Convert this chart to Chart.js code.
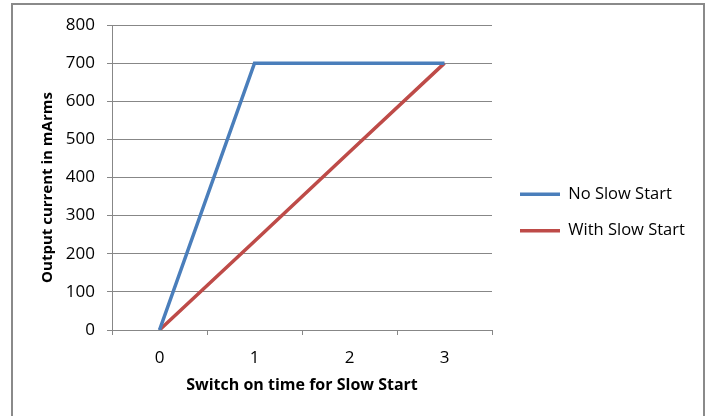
<!DOCTYPE html>
<html>
<head>
<meta charset="utf-8">
<script src="https://cdn.jsdelivr.net/npm/chart.js@4/dist/chart.umd.min.js"></script>
<style>
html,body{margin:0;padding:0;background:#fff;}
#wrap{position:relative;width:709px;height:416px;}
</style>
</head>
<body>
<div id="wrap"><canvas id="c" width="709" height="416"></canvas></div>
<script>
const categories = ['0', '1', '2', '3'];
const noSlowStart = [0, 700, 700, 700];
const withSlowStart = [0, 233, 467, 700];
const yTicks = [0, 100, 200, 300, 400, 500, 600, 700, 800];
const seriesNames = ['No Slow Start', 'With Slow Start'];
const xTitle = 'Switch on time for Slow Start';
const yTitle = 'Output current in mArms';

const FONT = "'Open Sans', 'Liberation Sans', sans-serif";
const GRID = '#878787';
const BLUE = '#4A7EBB';
const RED = '#BE4B48';

const frame = {
  id: 'frame',
  beforeDraw(chart) {
    const ctx = chart.ctx;
    ctx.save();
    ctx.fillStyle = '#fff';
    ctx.fillRect(0, 0, chart.width, chart.height);
    ctx.strokeStyle = '#8a8a8a';
    ctx.lineWidth = 2;
    ctx.strokeRect(12, 4, 692, 430);
    ctx.restore();
  }
};

const legendPlace = {
  id: 'legendPlace',
  beforeLayout(chart) {
    const lg = chart.legend;
    if (lg && !lg.__patched) {
      const fit = lg.fit;
      lg.fit = function () { fit.call(this); this.width = 217; };
      lg.__patched = true;
    }
  },
  afterLayout(chart) {
    const lg = chart.legend;
    if (lg) { lg.left += 8; lg.right += 8; lg.top -= 8; lg.bottom -= 8; }
    const ys = chart.scales.y;
    if (ys && !ys.__patched) {
      const dt = ys.drawTitle;
      ys.drawTitle = function () { this.top += 20; dt.call(this); this.top -= 20; };
      ys.__patched = true;
    }
  }
};

new Chart(document.getElementById('c'), {
  type: 'line',
  data: {
    labels: categories,
    datasets: [
      { label: seriesNames[0], data: noSlowStart, borderColor: BLUE, backgroundColor: BLUE, borderWidth: 3.5, pointRadius: 0, tension: 0, fill: false },
      { label: seriesNames[1], data: withSlowStart, borderColor: RED, backgroundColor: RED, borderWidth: 3.5, pointRadius: 0, tension: 0, fill: false }
    ]
  },
  options: {
    responsive: false,
    animation: false,
    devicePixelRatio: 1,
    layout: { padding: { left: 0, right: 0, top: 25, bottom: 0 } },
    plugins: {
      tooltip: { enabled: false },
      legend: {
        position: 'right',
        align: 'center',
        labels: {
          color: '#000',
          font: { family: FONT, size: 16.5 },
          boxWidth: 40,
          boxHeight: 0,
          padding: 20
        }
      }
    },
    scales: {
      x: {
        type: 'category',
        offset: true,
        afterFit(s) { s.height = 86; },
        border: { display: true, color: GRID, width: 1 },
        grid: { display: true, offset: true, drawOnChartArea: false, drawTicks: true, tickLength: 5, color: GRID },
        ticks: { color: '#000', font: { family: FONT, size: 17 }, padding: 13, maxRotation: 0 },
        title: { display: true, text: xTitle, color: '#000', font: { family: FONT, size: 16, weight: 'bold' }, padding: { top: 0, bottom: 21 } }
      },
      y: {
        min: 0,
        max: 800,
        afterFit(s) { s.width = 112; },
        afterBuildTicks(s) { s.ticks = yTicks.map(v => ({ value: v })); },
        border: { display: true, color: GRID, width: 1 },
        grid: { display: true, drawTicks: true, tickLength: 5, color: GRID },
        ticks: { color: '#000', font: { family: FONT, size: 17 }, padding: 12 },
        title: { display: true, text: yTitle, color: '#000', font: { family: FONT, size: 15, weight: 'bold' }, padding: { top: 39, bottom: 0 } }
      }
    }
  },
  plugins: [frame, legendPlace]
});
</script>
</body>
</html>
